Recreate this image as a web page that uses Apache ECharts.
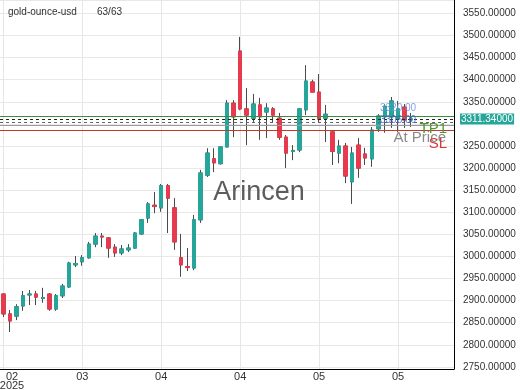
<!DOCTYPE html>
<html><head><meta charset="utf-8">
<script src="https://cdn.jsdelivr.net/npm/echarts@6/dist/echarts.min.js"></script>
<style>html,body{margin:0;padding:0;background:#fff}#c{width:520px;height:390px}</style>
</head><body><div id="c"></div>
<script>
// ---- data ----
const opens  = [2915,2870,2865,2888,2913,2915,2905,2915,2881,2911,2931,2981,2988,2997,3028,3046,3042,3021,3008,3015,3019,3051,3087,3116,3110,3160,3110,2997,2977,2974,3083,3184,3221,3210,3248,3347,3465,3334,3313,3343,3327,3334,3313,3270,3238,3241,3332,3395,3372,3313,3282,3234,3250,3169,3252,3232,3221,3289,3316,3316,3311,3338,3309];
const closes = [2870,2854,2886,2911,2915,2908,2907,2881,2911,2933,2985,2984,2997,3028,3046,3044,3019,3008,3017,3019,3053,3083,3119,3113,3160,3132,3033,2981,2975,3083,3189,3234,3212,3248,3347,3316,3334,3320,3345,3316,3336,3320,3270,3234,3240,3334,3397,3372,3311,3322,3238,3250,3182,3234,3200,3223,3286,3318,3340,3352,3334,3309,3311.34];
const lows   = [2863,2829,2856,2877,2890,2890,2895,2877,2877,2906,2929,2976,2979,2995,3021,3021,2997,2999,3003,3010,3017,3049,3076,3098,3101,3053,3015,2954,2967,2969,3076,3180,3191,3208,3247,3270,3331,3252,3304,3264,3268,3302,3264,3200,3218,3236,3320,3372,3304,3259,3207,3211,3166,3119,3178,3207,3203,3282,3280,3291,3282,3291,3293];
const highs  = [2917,2879,2892,2922,2924,2922,2929,2917,2915,2938,2988,3001,3003,3033,3053,3053,3044,3028,3026,3028,3055,3085,3123,3146,3164,3164,3132,3051,3019,3094,3196,3245,3245,3250,3354,3354,3497,3381,3368,3359,3347,3338,3325,3275,3252,3336,3433,3400,3413,3343,3286,3264,3257,3248,3268,3246,3293,3322,3345,3361,3352,3345,3325];
const tickIndex  = [0, 12, 24, 36, 48, 60];
const tickLabels = ['02\n2025', '03', '04', '04', '05', '05'];
const slotCount = 69;
const currentPrice = 3311.34;
const tp1Price = 3316.5;
const dashPrice2 = 3304.5;
const entryPrice = 3298;
const slPrice = 3286;
const orderLabels = ['3320.00', '3306.00'];

const categories = Array.from({length: slotCount}, (_, i) => String(i));
const fullData = opens.map((o, i) => [o, closes[i], lows[i], highs[i]]);
const bodyData = opens.map((o, i) => [o, closes[i], Math.min(o, closes[i]), Math.max(o, closes[i])]);

const FONT = "'Liberation Sans', Arial, sans-serif";
const UP = '#26a69a', DOWN = '#e83a4f', WICK = '#4a4a4a';

const chart = echarts.init(document.getElementById('c'), null, {renderer: 'canvas'});
chart.setOption({
  animation: false,
  grid: {left: 0, right: 66, top: 0, bottom: 21, containLabel: false, outerBoundsMode: 'none'},
  xAxis: {
    type: 'category', data: categories, boundaryGap: true,
    axisLine: {show: true, lineStyle: {color: '#000', width: 1}},
    axisTick: {show: false},
    splitLine: {show: false},
    axisLabel: {
      interval: (idx) => tickIndex.includes(idx),
      // first label (with the year) is drawn nudged inside the canvas below
      formatter: (v) => { const k = tickIndex.indexOf(Number(v)); return k > 0 ? tickLabels[k] : ''; },
      color: '#333', fontSize: 11, fontFamily: FONT, lineHeight: 9, margin: 3
    }
  },
  yAxis: {
    type: 'value', position: 'right', scale: true,
    min: 2745.3, max: 3580.5, splitNumber: 16,
    axisLine: {show: true, lineStyle: {color: '#000', width: 1}},
    axisTick: {show: false},
    splitLine: {show: true, lineStyle: {color: '#e8e8e8', width: 1}},
    axisLabel: {
      showMinLabel: false, showMaxLabel: false,
      formatter: (v) => Math.abs(v - currentPrice) < 20 ? '' : v.toFixed(5),
      color: '#333', fontSize: 10, fontFamily: FONT, margin: 9
    }
  },
  series: [
    {
      type: 'candlestick', name: 'wicks', data: fullData, barWidth: 4, z: 2,
      itemStyle: {color: WICK, color0: WICK, borderColor: WICK, borderColor0: WICK, borderWidth: 1},
      markLine: {
        silent: true, symbol: ['none', 'none'], z: 1,
        label: {show: false},
        lineStyle: {color: '#e6e6e6', width: 1, type: 'solid'},
        data: tickIndex.map(i => ({xAxis: String(i)}))
      }
    },
    {
      type: 'candlestick', name: 'bodies', data: bodyData, barWidth: 4, z: 3,
      itemStyle: {color: UP, color0: DOWN, borderColor: UP, borderColor0: DOWN, borderWidth: 1},
      markLine: {
        silent: true, symbol: ['none', 'none'], z: 4,
        data: [
          {yAxis: tp1Price, lineStyle: {color: '#3d8b3d', width: 1, type: 'solid'},
           label: {show: true, position: 'insideEndBottom', formatter: 'TP1', color: '#4e9a2e', fontSize: 15, fontFamily: FONT, distance: [7, 5]}},
          {yAxis: entryPrice, lineStyle: {color: '#9a9a9a', width: 1, type: 'solid'},
           label: {show: true, position: 'insideEndBottom', formatter: 'At Price', color: '#8a8a8a', fontSize: 15, fontFamily: FONT, distance: [8, 6]}},
          {yAxis: slPrice, lineStyle: {color: '#c0392b', width: 1, type: 'solid'},
           label: {show: true, position: 'insideEndBottom', formatter: 'SL', color: '#d9363e', fontSize: 15, fontFamily: FONT, distance: [7, 6]}},
          {yAxis: dashPrice2, lineStyle: {color: '#666', width: 1, type: [3, 3]}, label: {show: false}},
          {yAxis: currentPrice, lineStyle: {color: '#222', width: 1, type: [3, 3]},
           label: {show: true, position: 'end', formatter: currentPrice.toFixed(5), color: '#fff', backgroundColor: UP,
                   padding: [1, 1, 0, 1], fontSize: 10, fontFamily: FONT, distance: 6}}
        ]
      }
    }
  ],
  graphic: [
    {type: 'text', x: 8, y: 12, z: 50, style: {text: 'gold-ounce-usd', fill: '#333', font: '10px ' + FONT, textVerticalAlign: 'middle'}},
    {type: 'text', x: 97, y: 12, z: 50, style: {text: '63/63', fill: '#333', font: '10px ' + FONT, textVerticalAlign: 'middle'}},
    {type: 'text', x: 12, y: 372, z: 50, style: {text: tickLabels[0], fill: '#333', font: '11px ' + FONT, lineHeight: 9, textAlign: 'center', textVerticalAlign: 'top'}},
    {type: 'text', x: 259, y: 193, z: 50, style: {text: 'Arincen', fill: '#5c5c5c', font: '27px ' + FONT, textAlign: 'center', textVerticalAlign: 'middle'}},
    {type: 'text', x: 380, y: 108, z: 50, style: {text: orderLabels[0], fill: 'rgba(110,145,230,0.85)', font: '10px ' + FONT, textVerticalAlign: 'middle'}},
    {type: 'text', x: 380, y: 120, z: 50, style: {text: orderLabels[1], fill: 'rgba(60,100,220,0.85)', font: '10px ' + FONT, textVerticalAlign: 'middle'}},
    {type: 'rect', z: 100, shape: {x: 455, y: 370, width: 65, height: 20}, style: {fill: '#fff'}}
  ]
});
</script></body></html>
